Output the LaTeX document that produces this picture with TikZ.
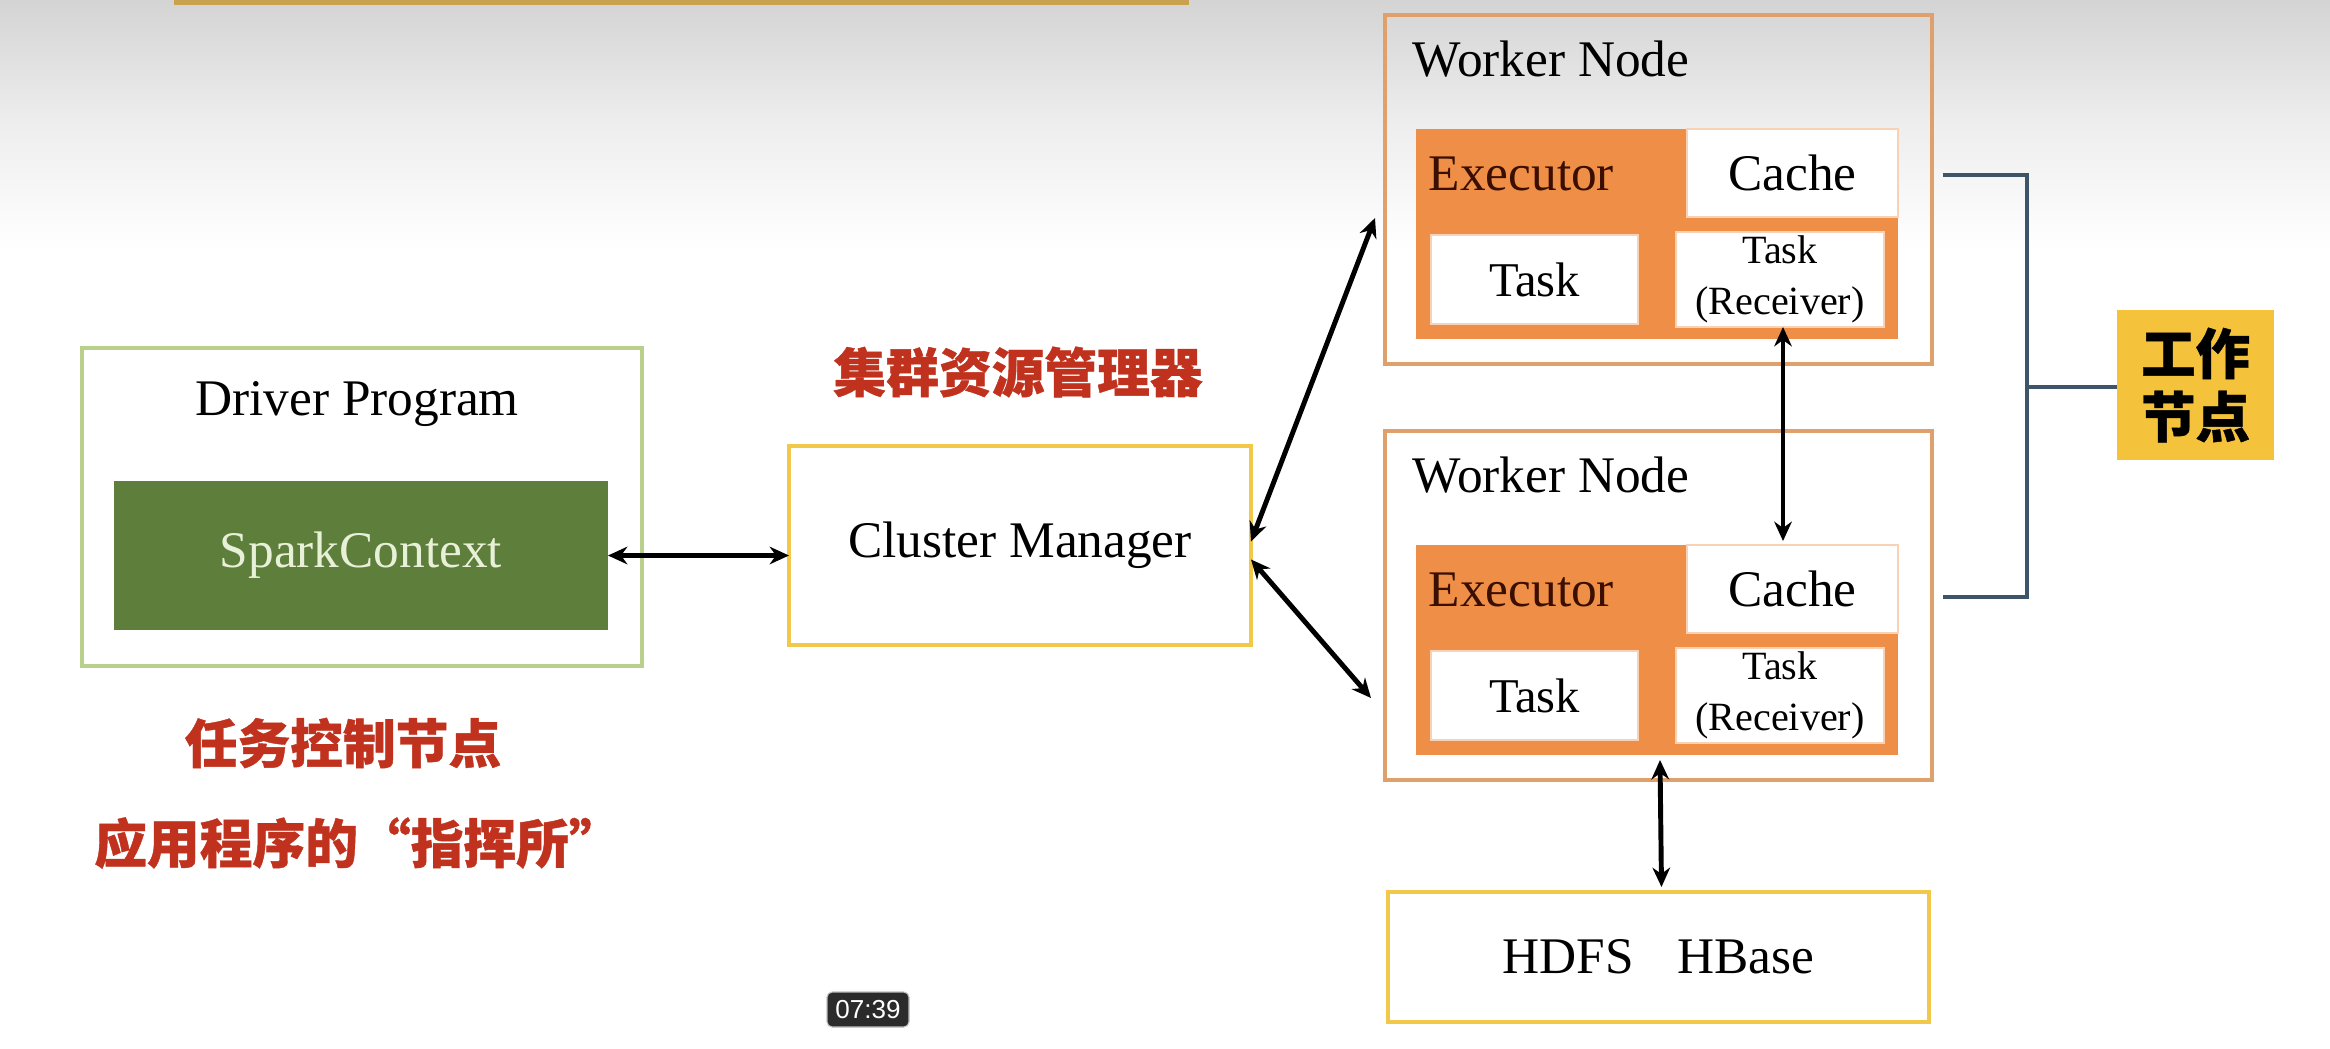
\documentclass[tikz,border=0pt]{standalone}
\usepackage{fontspec}
\setmainfont{Liberation Serif}
\setsansfont{Liberation Sans}
\newfontfamily\cjk{Noto Sans CJK SC}[BoldFeatures={FakeBold=0.8}]
\usetikzlibrary{arrows.meta,calc}
\definecolor{wkborder}{HTML}{DFA06C}
\definecolor{exorange}{HTML}{EF8E46}
\definecolor{extext}{HTML}{3A0E00}
\definecolor{drvgreen}{HTML}{B8D08C}
\definecolor{scgreen}{HTML}{5E7F3B}
\definecolor{sctext}{HTML}{E8F0D8}
\definecolor{cmyellow}{HTML}{F2C84A}
\definecolor{redtxt}{HTML}{C0321E}
\definecolor{gzyellow}{HTML}{F5C33B}
\definecolor{brk}{HTML}{3E5468}
\definecolor{tsgray}{HTML}{2B2B2B}
\definecolor{bgtop}{HTML}{D4D4D4}
\definecolor{bgmid}{HTML}{EDEDED}
\definecolor{goldbar}{HTML}{C9A24E}
\tikzset{
  sz/.style 2 args={minimum width=#1*0.01cm, minimum height=#2*0.01cm, inner sep=0pt, outer sep=0pt},
  frame/.style={draw, line width=1.3pt},
  wbox/.style={fill=white, draw=exorange!40, line width=0.4pt},
  en/.style={font=\fontsize{14.6}{17}\selectfont},
  tk/.style={font=\fontsize{13.8}{16}\selectfont},
  rc/.style={font=\fontsize{11.4}{14.6}\selectfont},
  redcn/.style={font=\cjk\bfseries\fontsize{15}{18}\selectfont, text=redtxt},
  arr/.style={{Stealth[length=5.5pt,width=5pt]}-{Stealth[length=5.5pt,width=5pt]}, line width=1.4pt},
  brkline/.style={draw=brk, line width=1pt}
}
\begin{document}
\begin{tikzpicture}[x=0.01cm,y=-0.01cm]
\useasboundingbox (0,0) rectangle (2330,1048);
\fill[white] (0,0) rectangle (2330,1048);
\shade[top color=bgtop, bottom color=bgmid] (0,0) rectangle (2330,120);
\shade[top color=bgmid, bottom color=white] (0,119) rectangle (2330,250);
\fill[goldbar] (174,0) rectangle (1189,5);

% Driver program
\node[frame, draw=drvgreen, sz={560}{318}] (drv) at (362,507) {};
\node[en] (drvt) at (357,404) {Driver Program};
\node[fill=scgreen, sz={494}{149}, text=sctext, en] (sc) at (361,555.5) {SparkContext};
\node[redcn] (dl1) at (343,743) {任务控制节点};
\node[redcn] (dl2) at (358,843) {应用程序的“指挥所”};

% Cluster manager
\node[frame, draw=cmyellow, sz={462}{199}, en] (cm) at (1020,545.5) {Cluster Manager};
\node[redcn] (cmt) at (1018,372) {集群资源管理器};

% Worker 1
\node[frame, draw=wkborder, sz={547}{349}] (w1) at (1658.5,189.5) {};
\node[en, anchor=west, inner sep=0pt] (w1t) at (1412,59) {Worker Node};
\node[fill=exorange, sz={482}{210}] (ex1) at (1657,234) {};
\node[en, anchor=west, inner sep=0pt, text=extext] (ex1t) at (1428,174) {Executor};
\node[wbox, sz={211}{88}, en] (ca1) at (1792.5,173) {Cache};
\node[wbox, sz={207}{89}, tk] (t1) at (1534.5,279.5) {Task};
\node[wbox, sz={208}{95}, rc, align=center] (tr1) at (1780,279.5) {Task\\(Receiver)};

% Worker 2
\node[frame, draw=wkborder, sz={547}{349}] (w2) at (1658.5,605.5) {};
\node[en, anchor=west, inner sep=0pt] (w2t) at (1412,475) {Worker Node};
\node[fill=exorange, sz={482}{210}] (ex2) at (1657,650) {};
\node[en, anchor=west, inner sep=0pt, text=extext] (ex2t) at (1428,590) {Executor};
\node[wbox, sz={211}{88}, en] (ca2) at (1792.5,589) {Cache};
\node[wbox, sz={207}{89}, tk] (t2) at (1534.5,695.5) {Task};
\node[wbox, sz={208}{95}, rc, align=center] (tr2) at (1780,695.5) {Task\\(Receiver)};

% Storage
\node[frame, draw=cmyellow, sz={541}{130}, en] (hd) at (1658.5,957) {HDFS\hspace{0.85em}HBase};

% Worker label
\node[fill=gzyellow, sz={157}{150}, font=\cjk\bfseries\fontsize{15.5}{18}\selectfont, align=center] (gz) at (2195.5,385) {工作\\节点};

% Timestamp
\node[fill=tsgray, draw=gray!50, line width=0.3pt, rounded corners=1.5pt, sz={82}{35}, text=white, font=\sffamily\fontsize{7.4}{8}\selectfont] (ts) at (868,1009.5) {07:39};

% Connectors
\draw[arr] (sc.east) -- (sc.east -| cm.west);
\draw[arr] ($(cm.east)+(0,-4)$) -- ($(w1.west)+(-10,28.5)$);
\draw[arr] ($(cm.east)+(0,14)$) -- ($(w2.west)+(-14,92.5)$);
\draw[arr] ($(tr1.south)+(3,0)$) -- ($(tr1.south |- ca2.north)+(3,-4)$);
\draw[arr] ($(ex2.south)+(3,5)$) -- ($(hd.north)+(3,-5)$);

% Bracket
\coordinate (b1) at (1943,175);
\coordinate (b2) at (1943,597);
\coordinate (bm) at (2027,387);
\draw[brkline] (b1) -| (bm) |- (b2);
\draw[brkline] (bm) -- (bm -| gz.west);
\end{tikzpicture}
\end{document}
